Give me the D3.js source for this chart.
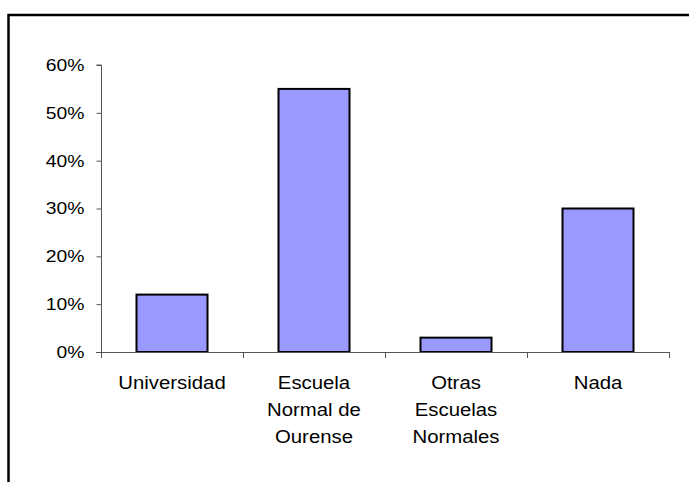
<!DOCTYPE html>
<html>
<head>
<meta charset="utf-8">
<script src="https://cdn.jsdelivr.net/npm/d3@7"></script>
<style>
  body { margin: 0; background: #fff; }
  text { font-family: "Liberation Sans", Arial, sans-serif; fill: #000; }
</style>
</head>
<body>
<div id="chart"></div>
<script>
var categories = ["Universidad", "Escuela Normal de Ourense", "Otras Escuelas Normales", "Nada"];
var labelLines = [["Universidad"], ["Escuela", "Normal de", "Ourense"], ["Otras", "Escuelas", "Normales"], ["Nada"]];
var values = [0.12, 0.55, 0.03, 0.30];
var yTicks = [0, 0.1, 0.2, 0.3, 0.4, 0.5, 0.6];

var w = 689, h = 482;
var svg = d3.select("#chart").append("svg")
    .attr("width", w)
    .attr("height", h);

svg.append("rect")
    .attr("width", w).attr("height", h)
    .style("fill", "white");

// outer frame (runs off the right and bottom edge)
svg.append("rect")
    .attr("x", 8.5).attr("y", 15)
    .attr("width", 700).attr("height", 500)
    .style("fill", "none")
    .style("stroke", "#000")
    .style("stroke-width", 2.5);

var x = d3.scaleBand()
    .domain(categories)
    .range([101, 669])
    .padding(0);

var y = d3.scaleLinear()
    .domain([0, 0.6])
    .range([352, 65]);

var yAxis = d3.axisLeft(y)
    .tickValues(yTicks)
    .tickFormat(d3.format(".0%"))
    .tickSize(5)
    .tickPadding(12);

var gy = svg.append("g")
    .attr("transform", "translate(101.5,0)")
    .call(yAxis);
gy.selectAll("line, path").style("stroke", "#555");
// the original text is a bit stretched sideways
var sx = 1.16;
gy.selectAll("text")
    .style("font-size", "16.7px")
    .attr("x", -17 / sx)
    .attr("transform", "scale(" + sx + ",1)");
gy.select(".domain").attr("d", "M-5," + y(0.6) + "H0V" + y(0));

// bars
var bw = x.bandwidth() / 2;
svg.selectAll("rect.bar")
    .data(values)
    .enter()
    .append("rect")
    .attr("class", "bar")
    .attr("x", function(d, i) { return x(categories[i]) + bw / 2; })
    .attr("y", function(d) { return y(d); })
    .attr("width", bw)
    .attr("height", function(d) { return y(0) - y(d); })
    .style("fill", "#9999ff")
    .style("stroke", "#000")
    .style("stroke-width", 2);

// x axis line and boundary ticks
var gx = svg.append("g").attr("class", "x-axis");
gx.append("line")
    .attr("x1", 96).attr("x2", x.range()[1])
    .attr("y1", y(0) + 0.5).attr("y2", y(0) + 0.5)
    .style("stroke", "#555");
var bounds = categories.map(function(c) { return x(c); }).concat([x.range()[1]]);
gx.selectAll("line.tick")
    .data(bounds)
    .enter()
    .append("line")
    .attr("class", "tick")
    .attr("x1", function(d) { return Math.round(d) + 0.5; })
    .attr("x2", function(d) { return Math.round(d) + 0.5; })
    .attr("y1", y(0))
    .attr("y2", y(0) + 6)
    .style("stroke", "#555");

// category labels
var lab = svg.selectAll("text.cat")
    .data(labelLines)
    .enter()
    .append("text")
    .attr("class", "cat")
    .attr("text-anchor", "middle")
    .style("font-size", "18.5px")
    .attr("transform", function(d, i) {
        return "translate(" + (x(categories[i]) + x.bandwidth() / 2) + ",389) scale(1.1,1)";
    });
lab.selectAll("tspan")
    .data(function(d) { return d; })
    .enter()
    .append("tspan")
    .attr("x", 0)
    .attr("y", function(d, j) { return j * 27; })
    .text(function(d) { return d; });
</script>
</body>
</html>
